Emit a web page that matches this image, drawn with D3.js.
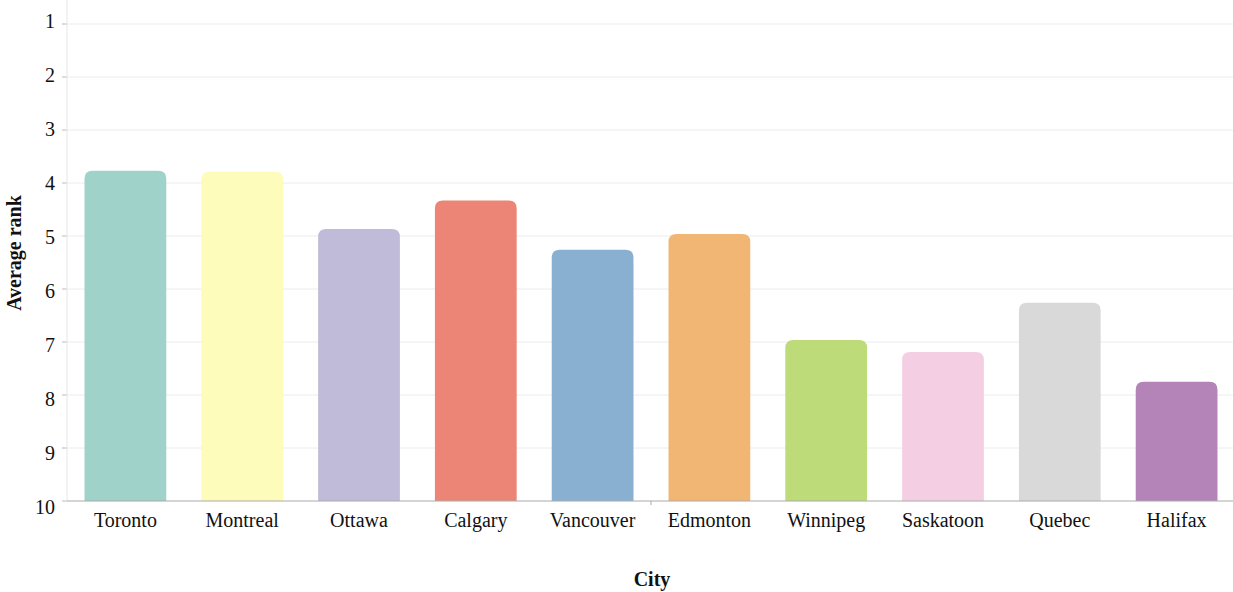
<!DOCTYPE html>
<html>
<head>
<meta charset="utf-8">
<script src="https://cdn.jsdelivr.net/npm/d3@7"></script>
<style>
  body { margin: 0; background: #fff; }
  text { font-family: "Liberation Serif", "Times New Roman", serif; fill: #111; }
</style>
</head>
<body>
<div id="chart"></div>
<script>
const cities = ["Toronto", "Montreal", "Ottawa", "Calgary", "Vancouver", "Edmonton", "Winnipeg", "Saskatoon", "Quebec", "Halifax"];
const avgRank = [3.77, 3.79, 4.87, 4.33, 5.26, 4.96, 6.96, 7.19, 6.26, 7.75];
const barColors = ["#9fd2c8", "#fefcbb", "#bfbbd9", "#ec8576", "#8ab0d1", "#f1b673", "#bedb7a", "#f4cfe4", "#d9d9d9", "#b484b8"];
const rankTicks = [1, 2, 3, 4, 5, 6, 7, 8, 9, 10];

const width = 1233, height = 592;
const plotLeft = 67, plotRight = 1233, plotTop = 24, plotBottom = 501;

const svg = d3.select("#chart").append("svg")
    .attr("width", width)
    .attr("height", height);

const x = d3.scaleBand()
    .domain(cities)
    .range([plotLeft, 1235])
    .paddingInner(0.3)
    .paddingOuter(0.15);

const y = d3.scaleLinear()
    .domain([1, 10])
    .range([plotTop, plotBottom]);

// labels sit on a slightly wider spacing than the grid
const yLabel = d3.scaleLinear()
    .domain([1, 10])
    .range([21, 507]);

// grid
svg.append("g").selectAll("line")
    .data(rankTicks.slice(0, -1))
  .enter().append("line")
    .attr("x1", plotLeft).attr("x2", plotRight)
    .attr("y1", d => y(d)).attr("y2", d => y(d))
    .style("stroke", "#ececec")
    .style("stroke-width", 1);

svg.append("g").selectAll("line")
    .data(rankTicks)
  .enter().append("line")
    .attr("x1", plotLeft - 5).attr("x2", plotLeft)
    .attr("y1", d => y(d)).attr("y2", d => y(d))
    .style("stroke", "#bbb");

svg.append("line")
    .attr("x1", plotLeft).attr("x2", plotLeft)
    .attr("y1", 0).attr("y2", plotBottom)
    .style("stroke", "#e6e6e6");

svg.append("g").selectAll("text")
    .data(rankTicks)
  .enter().append("text")
    .attr("x", 55)
    .attr("y", d => yLabel(d))
    .attr("dy", "0.35em")
    .style("text-anchor", "end")
    .style("font-size", "20px")
    .text(d => d);

// bars with rounded tops
const r = 8;
function barPath(d, i) {
  const x0 = x(cities[i]), w = x.bandwidth();
  const y0 = y(d), y1 = y(10);
  return `M${x0},${y1}V${y0 + r}Q${x0},${y0} ${x0 + r},${y0}H${x0 + w - r}Q${x0 + w},${y0} ${x0 + w},${y0 + r}V${y1}Z`;
}

svg.append("g").selectAll("path")
    .data(avgRank)
  .enter().append("path")
    .attr("d", barPath)
    .style("fill", (d, i) => barColors[i]);

// x axis
svg.append("line")
    .attr("x1", plotLeft).attr("x2", plotRight)
    .attr("y1", plotBottom).attr("y2", plotBottom)
    .style("stroke", "#aaa");
svg.append("line")
    .attr("x1", 651).attr("x2", 651)
    .attr("y1", plotBottom).attr("y2", plotBottom + 4)
    .style("stroke", "#aaa");

svg.append("g").selectAll("text")
    .data(cities)
  .enter().append("text")
    .attr("x", d => x(d) + x.bandwidth() / 2)
    .attr("y", 527)
    .style("text-anchor", "middle")
    .style("font-size", "20px")
    .text(d => d);

svg.append("text")
    .attr("x", 652).attr("y", 586)
    .style("text-anchor", "middle")
    .style("font-size", "20px")
    .style("font-weight", "bold")
    .text("City");

svg.append("text")
    .attr("transform", "translate(21,253) rotate(-90)")
    .style("text-anchor", "middle")
    .style("font-size", "20px")
    .style("font-weight", "bold")
    .text("Average rank");
</script>
</body>
</html>
